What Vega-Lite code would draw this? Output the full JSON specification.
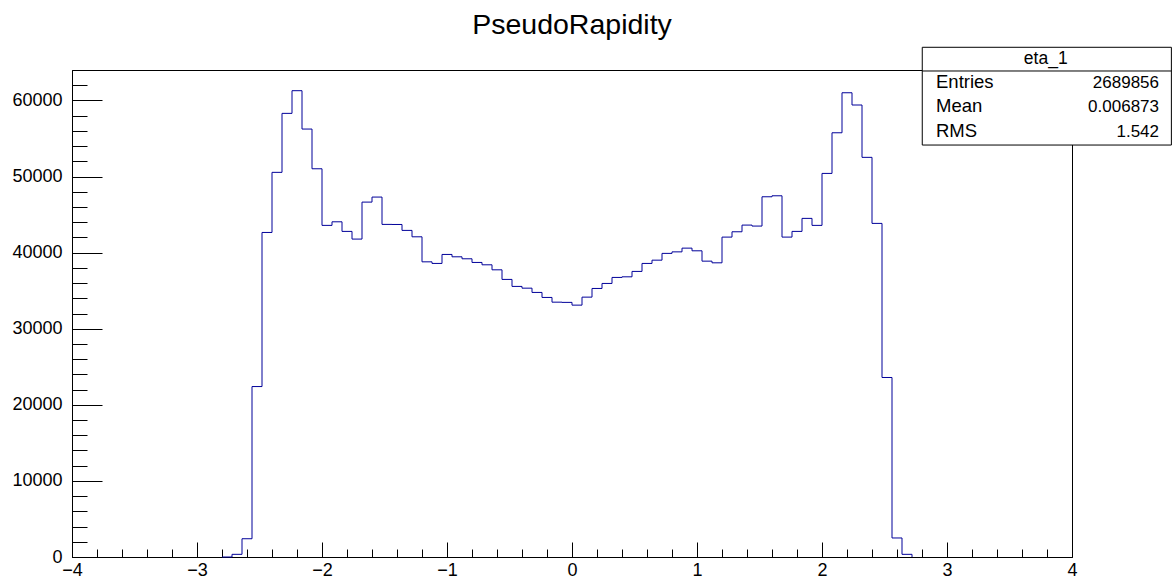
{
  "$schema": "https://vega.github.io/schema/vega-lite/v6.json",
  "autosize": "none",
  "width": 1000,
  "height": 487,
  "padding": {"left": 72, "top": 70, "right": 100, "bottom": 21},
  "background": "white",
  "config": {
    "font": "Liberation Sans",
    "view": {"stroke": "black", "strokeWidth": 1},
    "axis": {"grid": false, "domainColor": "black", "tickColor": "black", "labelColor": "black", "labelFont": "Liberation Sans", "labelFontSize": 18}
  },
  "title": {"text": "PseudoRapidity", "fontSize": 28.5, "fontWeight": "normal", "font": "Liberation Sans", "color": "black", "anchor": "middle", "frame": "group", "baseline": "alphabetic", "offset": 13, "dy": 29},
  "layer": [
    {
      "data": {"values": [
        {"eta": -2.80, "entries": 0},
        {"eta": -2.72, "entries": 350},
        {"eta": -2.64, "entries": 2400},
        {"eta": -2.56, "entries": 22400},
        {"eta": -2.48, "entries": 42650},
        {"eta": -2.40, "entries": 50550},
        {"eta": -2.32, "entries": 58300},
        {"eta": -2.24, "entries": 61280},
        {"eta": -2.16, "entries": 56240},
        {"eta": -2.08, "entries": 51020},
        {"eta": -2.00, "entries": 43580},
        {"eta": -1.92, "entries": 44050},
        {"eta": -1.84, "entries": 42790},
        {"eta": -1.76, "entries": 41780},
        {"eta": -1.68, "entries": 46640},
        {"eta": -1.60, "entries": 47300},
        {"eta": -1.52, "entries": 43710},
        {"eta": -1.44, "entries": 43700},
        {"eta": -1.36, "entries": 42920},
        {"eta": -1.28, "entries": 42080},
        {"eta": -1.20, "entries": 38790},
        {"eta": -1.12, "entries": 38580},
        {"eta": -1.04, "entries": 39760},
        {"eta": -0.96, "entries": 39450},
        {"eta": -0.88, "entries": 39190},
        {"eta": -0.80, "entries": 38710},
        {"eta": -0.72, "entries": 38400},
        {"eta": -0.64, "entries": 37740},
        {"eta": -0.56, "entries": 36480},
        {"eta": -0.48, "entries": 35560},
        {"eta": -0.40, "entries": 35330},
        {"eta": -0.32, "entries": 34770},
        {"eta": -0.24, "entries": 34110},
        {"eta": -0.16, "entries": 33490},
        {"eta": -0.08, "entries": 33460},
        {"eta": 0.00, "entries": 33100},
        {"eta": 0.08, "entries": 34150},
        {"eta": 0.16, "entries": 35290},
        {"eta": 0.24, "entries": 35950},
        {"eta": 0.32, "entries": 36740},
        {"eta": 0.40, "entries": 36820},
        {"eta": 0.48, "entries": 37530},
        {"eta": 0.56, "entries": 38580},
        {"eta": 0.64, "entries": 39010},
        {"eta": 0.72, "entries": 39900},
        {"eta": 0.80, "entries": 40100},
        {"eta": 0.88, "entries": 40590},
        {"eta": 0.96, "entries": 40240},
        {"eta": 1.04, "entries": 38880},
        {"eta": 1.12, "entries": 38660},
        {"eta": 1.20, "entries": 42040},
        {"eta": 1.28, "entries": 42740},
        {"eta": 1.36, "entries": 43620},
        {"eta": 1.44, "entries": 43490},
        {"eta": 1.52, "entries": 47340},
        {"eta": 1.60, "entries": 47470},
        {"eta": 1.68, "entries": 42040},
        {"eta": 1.76, "entries": 42790},
        {"eta": 1.84, "entries": 44500},
        {"eta": 1.92, "entries": 43580},
        {"eta": 2.00, "entries": 50410},
        {"eta": 2.08, "entries": 55750},
        {"eta": 2.16, "entries": 61010},
        {"eta": 2.24, "entries": 59400},
        {"eta": 2.32, "entries": 52520},
        {"eta": 2.40, "entries": 43840},
        {"eta": 2.48, "entries": 23590},
        {"eta": 2.56, "entries": 2500},
        {"eta": 2.64, "entries": 350},
        {"eta": 2.72, "entries": 0}
      ]},
      "mark": {"type": "line", "interpolate": "step-after", "color": "#000099", "strokeWidth": 1},
      "encoding": {
        "x": {"field": "eta", "type": "quantitative",
          "scale": {"domain": [-4, 4], "nice": false, "zero": false},
          "axis": {"title": null, "tickCount": 200, "tickMinStep": 0.05, "values": [-4,-3.8,-3.6,-3.4,-3.2,-3,-2.8,-2.6,-2.4,-2.2,-2,-1.8,-1.6,-1.4,-1.2,-1,-0.8,-0.6,-0.4,-0.2,0,0.2,0.4,0.6,0.8,1,1.2,1.4,1.6,1.8,2,2.2,2.4,2.6,2.8,3,3.2,3.4,3.6,3.8,4],
            "format": "d", "labelExpr": "abs(datum.value - round(datum.value)) < 0.001 ? datum.label : ''",
            "labelOverlap": false, "labelFlush": false, "labelBaseline": "top",
            "tickSize": {"condition": {"test": "abs(datum.value - round(datum.value)) < 0.001", "value": -15}, "value": -8},
            "labelPadding": 19}},
        "y": {"field": "entries", "type": "quantitative",
          "scale": {"domain": [0, 64000], "nice": false, "zero": true},
          "axis": {"title": null, "tickCount": 200, "values": [0,2000,4000,6000,8000,10000,12000,14000,16000,18000,20000,22000,24000,26000,28000,30000,32000,34000,36000,38000,40000,42000,44000,46000,48000,50000,52000,54000,56000,58000,60000,62000,64000],
            "format": "d", "labelExpr": "datum.value % 10000 === 0 ? datum.label : ''",
            "labelOverlap": false, "labelFlush": false,
            "tickSize": {"condition": {"test": "datum.value % 10000 === 0", "value": -30}, "value": -15},
            "labelPadding": 40}}
      }
    },
    {
      "data": {"values": [{"box": "eta_1"}]},
      "mark": {"type": "rect", "fill": "white", "stroke": "black", "strokeWidth": 1},
      "encoding": {
        "x": {"datum": 2.802, "type": "quantitative"},
        "x2": {"datum": 4.795},
        "y": {"datum": 66985, "type": "quantitative"},
        "y2": {"datum": 54138}
      }
    },
    {
      "data": {"values": [{"box": "eta_1"}]},
      "mark": {"type": "rule", "color": "black", "strokeWidth": 1},
      "encoding": {
        "x": {"datum": 2.802, "type": "quantitative"},
        "x2": {"datum": 4.795},
        "y": {"datum": 63869, "type": "quantitative"}
      }
    },
    {
      "data": {"values": [{"box": "eta_1"}]},
      "mark": {"type": "text", "align": "center", "baseline": "alphabetic", "fontSize": 17.5, "font": "Liberation Sans", "color": "black"},
      "encoding": {
        "text": {"field": "box"},
        "x": {"datum": 3.79, "type": "quantitative"},
        "y": {"datum": 64789, "type": "quantitative"}
      }
    },
    {
      "data": {"values": [{"box": "eta_1"}]},
      "mark": {"type": "text", "text": ["Entries", "Mean", "RMS"], "align": "left", "baseline": "alphabetic", "fontSize": 18.5, "lineHeight": 24.2, "font": "Liberation Sans", "color": "black"},
      "encoding": {
        "x": {"datum": 2.912, "type": "quantitative"},
        "y": {"datum": 61594, "type": "quantitative"}
      }
    },
    {
      "data": {"values": [{"box": "eta_1"}]},
      "mark": {"type": "text", "text": ["2689856", "0.006873", "1.542"], "align": "right", "baseline": "alphabetic", "fontSize": 17, "lineHeight": 24.2, "font": "Liberation Sans", "color": "black"},
      "encoding": {
        "x": {"datum": 4.696, "type": "quantitative"},
        "y": {"datum": 61594, "type": "quantitative"}
      }
    }
  ]
}
